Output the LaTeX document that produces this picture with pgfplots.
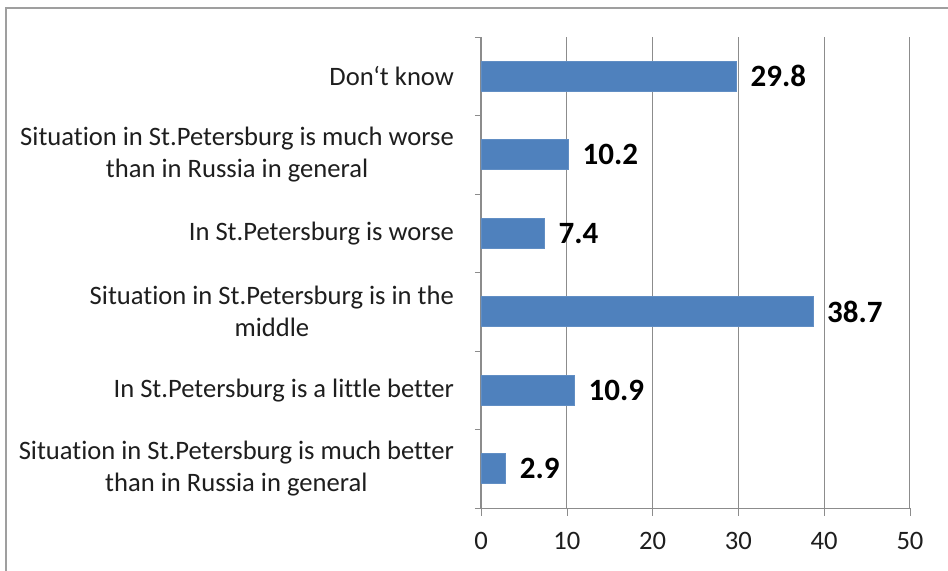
\documentclass[border=0pt]{standalone}
\usepackage{pgfplots}
\pgfplotsset{compat=1.18}
\usepackage{fontspec}
\setmainfont[Ligatures={TeX,NoCommon}]{Carlito}
\definecolor{barblue}{HTML}{4F81BD}
\definecolor{gridgray}{HTML}{8C8C8C}
\definecolor{txt}{HTML}{1E1E1E}
\begin{document}
\begin{tikzpicture}
\useasboundingbox (0,0) rectangle (474pt,285.5pt);
\fill[white] (0,0) rectangle (474pt,285.5pt);
\draw[gray!75, line width=1.3pt] (3pt,0) -- (3pt,281.5pt) -- (474pt,281.5pt);
\begin{axis}[
  at={(240.5pt,31.5pt)}, anchor=south west,
  scale only axis, width=214.5pt, height=235.5pt,
  xbar, bar width=0.38,
  xmin=0, xmax=50, ymin=-0.5, ymax=5.5,
  xtick={0,10,...,50},
  ytick={0,...,5},
  yticklabels={{Situation in St.Petersburg is much better\\than in Russia in general},
               {In St.Petersburg is a little better},
               {Situation in St.Petersburg is in the\\middle},
               {In St.Petersburg is worse},
               {Situation in St.Petersburg is much worse\\than in Russia in general},
               {Don\symbol{96}t know}},
  yticklabel style={align=center, font=\fontsize{13.3}{16}\selectfont, text=txt, xshift=-6pt},
  xticklabel style={font=\fontsize{13.3}{15}\selectfont, text=txt, yshift=-4.5pt},
  /pgf/number format/assume math mode=true,
  axis lines=left, axis line style={-, draw=gridgray},
  tick align=outside, major tick length=4pt,
  xtick style={draw=gridgray},
  ytick style={draw=none},
  extra y ticks={-0.5,0.5,...,5.5},
  extra y tick labels={},
  extra y tick style={ytick style={draw=gridgray}, major tick length=3pt},
  xmajorgrids, grid style={draw=gridgray, line width=0.5pt},
  nodes near coords,
  every node near coord/.append style={font=\bfseries\fontsize{15.5}{18}\selectfont, text=black, xshift=3.5pt},
]
\addplot[fill=barblue, draw=barblue!90!white] coordinates {
  (2.9,0) (10.9,1) (38.7,2) (7.4,3) (10.2,4) (29.8,5)
};
\end{axis}
\end{tikzpicture}
\end{document}
